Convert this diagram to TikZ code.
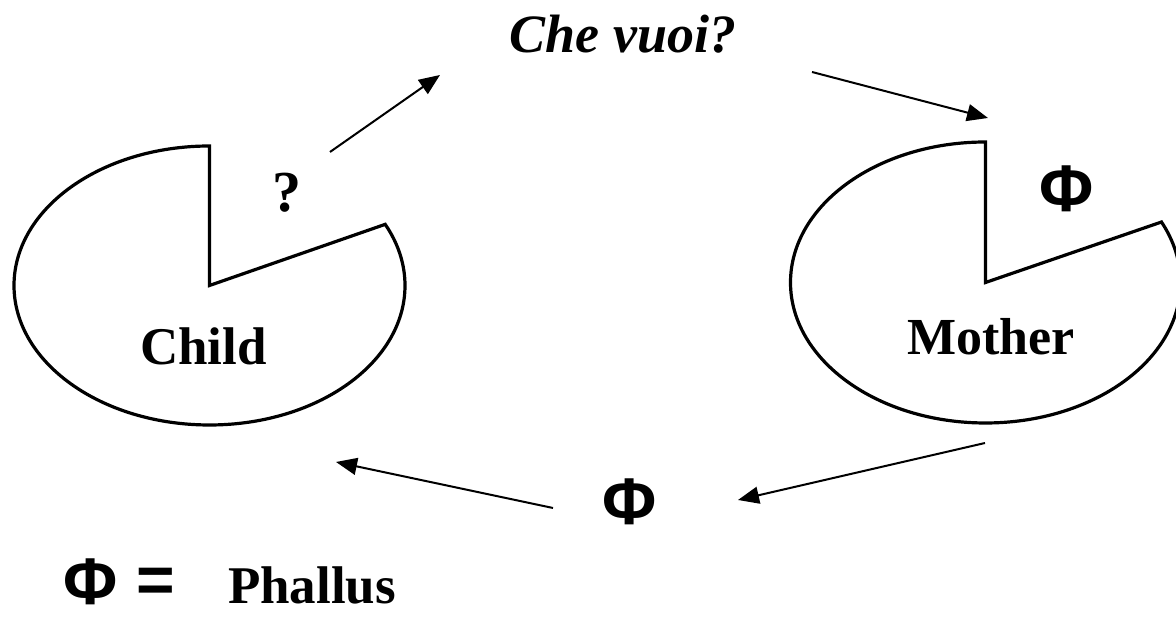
\documentclass[tikz,border=0pt]{standalone}
\usepackage{fontspec}
\setmainfont{Liberation Serif}
\newfontfamily\phifont{Liberation Sans}
\usetikzlibrary{arrows.meta}
\begin{document}
\begin{tikzpicture}[x=1pt,y=1pt,
  pac/.style={line width=3.2pt, line join=miter},
  conn/.style={line width=2pt, -{Triangle[length=21pt,width=17pt]}},
  lbl/.style={inner sep=0pt, font=\bfseries\fontsize{53}{60}\selectfont},
  phisym/.style={inner sep=0pt, font=\phifont\bfseries\fontsize{66}{72}\selectfont}]
\clip (0,0) rectangle (1176,617);
% Child pac-man
\coordinate (cc) at (209.5,331.5);
\draw[pac] (cc) -- ++(0,139.5) arc[start angle=90,end angle=386,x radius=195.5,y radius=139.5] -- cycle;
% Mother pac-man
\coordinate (mc) at (985.5,334.5);
\draw[pac] (mc) -- ++(0,140.5) arc[start angle=90,end angle=385.5,x radius=195,y radius=140.5] -- cycle;
% Texts
\node[lbl, anchor=base, font=\bfseries\itshape\fontsize{54}{60}\selectfont] (che) at (623,564) {Che vuoi?};
\node[lbl, anchor=base] (child) at (203.5,252) {Child};
\node[lbl, anchor=base, font=\bfseries\fontsize{52}{60}\selectfont] (mother) at (991,262) {Mother};
\node[lbl, anchor=base, font=\bfseries\fontsize{58}{60}\selectfont] (qm) at (287,405) {?};
\node[phisym] (phiM) at (1067,428) {Φ};
\node[phisym] (phiB) at (630,115) {Φ};
\node[phisym] (phiL) at (91,35) {Φ};
\node[phisym] (eq) at (156,32) {=};
\node[lbl, anchor=base] (phallus) at (312,13) {Phallus};
% Connector end points
\coordinate (a1s) at (330,465);
\coordinate (a1e) at (440,542);
\coordinate (a2s) at (812,545);
\coordinate (a2e) at (988,499);
\coordinate (a3s) at (985,174);
\coordinate (a3e) at (738,117);
\coordinate (a4s) at (553,109);
\coordinate (a4e) at (336,155);
\draw[conn] (a1s) -- (a1e);
\draw[conn] (a2s) -- (a2e);
\draw[conn] (a3s) -- (a3e);
\draw[conn] (a4s) -- (a4e);
\end{tikzpicture}
\end{document}
